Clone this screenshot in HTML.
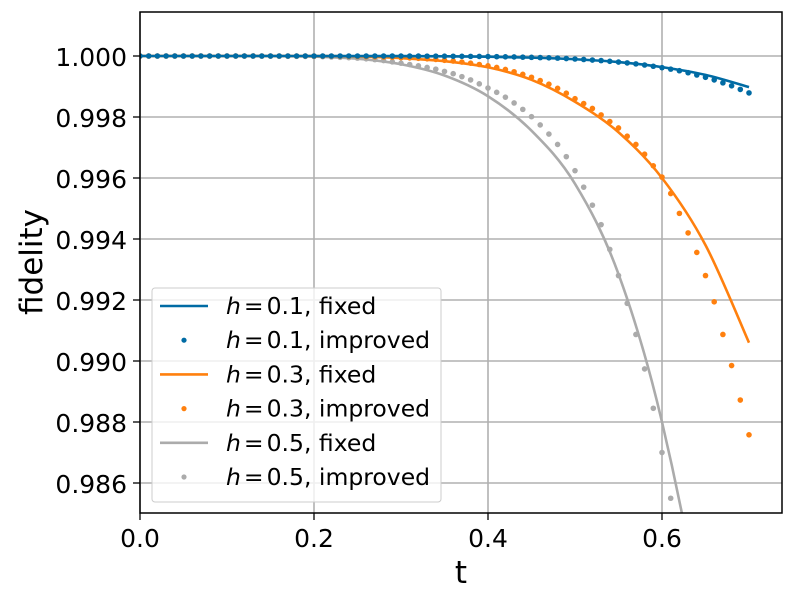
<!DOCTYPE html>
<html><head><meta charset="utf-8"><style>
html,body{margin:0;padding:0;background:#fff;overflow:hidden;width:792px;height:599px;}
svg{display:block;font-family:"DejaVu Sans","Liberation Sans",sans-serif;}
</style></head><body>
<svg id="chart" width="792" height="599" viewBox="0 0 792 599">
<defs><clipPath id="plotclip"><rect x="140" y="12" width="642" height="501"/></clipPath></defs>
<g id="grid"></g>
<g id="series" clip-path="url(#plotclip)"></g>
<rect x="140" y="12" width="642" height="501" fill="none" stroke="#000" stroke-width="1.5"/>
<g id="ticks"></g>
<text x="461" y="583" font-size="31" text-anchor="middle">t</text>
<text transform="translate(42,262) rotate(-90)" font-size="31" text-anchor="middle">fidelity</text>
<g id="legend"></g>
</svg>
<script>
// x grid of line samples (step 0.05) and dot samples (step 0.01)
const lineT = [0,0.05,0.1,0.15,0.2,0.25,0.3,0.35,0.4,0.45,0.5,0.55,0.6,0.65,0.7];
// fidelity loss in units of 1e-4 (fidelity = 1 - loss*1e-4)
const lossFixedH01 = [0,0,0,0,0,0.01,0.03,0.1,0.24,0.53,1.07,2.0,3.65,6.2,10.2];
const lossFixedH03 = [0,0,0,0,0.02,0.15,0.7,1.7,3.7,7.8,15,25,40,62,94];
const lossFixedH05 = [0,0,0,0,0.2,0.9,2.7,6.4,13.2,24.5,41.9,71.5,120,193,300];
const zeros20 = [0,0,0,0,0,0,0,0,0,0,0,0,0,0,0,0,0,0,0,0];
const lossImpH01 = zeros20.concat([0,0,0,0,0,0,0,0,0.01,0.01,
 .02,.03,.03,.04,.05,.06,.08,.1,.12,.15,
 .18,.21,.26,.31,.38,.44,.52,.6,.7,.83,
 .98,1.14,1.32,1.51,1.74,1.99,2.26,2.58,2.95,3.36,
 3.82,4.3,4.83,5.48,6.23,6.98,7.84,8.81,9.77,10.95,12.1]);
const lossImpH03 = zeros20.concat([.03,.04,.05,.08,.11,.16,.21,.27,.34,.43,
 .54,.64,.75,.91,1.13,1.4,1.66,1.99,2.36,2.79,
 3.22,3.76,4.4,5.16,6.01,6.98,8.06,9.24,10.6,12.2,
 14,15.6,17.2,19.3,21.5,23.6,26.3,29,32.2,36,
 39.7,45.1,51.6,58,64.4,72,80.6,91.3,101.5,112.8,124.2]);
const lossImpH05 = [0,0,0,0,0,0,0,0,0,0,0.01,0.01,0.02,0.03,0.04,0.05,0.07,0.09,0.11,0.13,
 .16,.21,.32,.43,.54,.7,.91,1.18,1.5,1.93,
 2.36,2.79,3.22,3.76,4.3,5.05,5.8,6.77,7.84,9.13,
 10.5,11.9,13.5,15.4,17.5,19.9,22.6,25.6,29,33,
 37.6,43,48.9,55.3,63.4,72,81.1,91.3,102.6,115.5,
 130,145,161,179,199,220,243,268,295,325,358];
const xTicks = [0.0,0.2,0.4,0.6];
const xTickLabels = ["0.0","0.2","0.4","0.6"];
const yTicks = [0.986,0.988,0.990,0.992,0.994,0.996,0.998,1.000];
const yTickLabels = ["0.986","0.988","0.990","0.992","0.994","0.996","0.998","1.000"];
const seriesNames = ["h01-fixed","h01-improved","h03-fixed","h03-improved","h05-fixed","h05-improved"];
const legendH = ["0.1","0.1","0.3","0.3","0.5","0.5"];
const legendKind = ["fixed","improved","fixed","improved","fixed","improved"];

const NS="http://www.w3.org/2000/svg";
const X0=140,X1=782,Y0=12,Y1=513;
const xMin=0,xMax=(X1-X0)/870;
const yMin=0.986-(Y1-483)/30500,yMax=1+(56-Y0)/30500;
function sx(v){return X0+(v-xMin)/(xMax-xMin)*(X1-X0);}
function sy(v){return Y1-(v-yMin)/(yMax-yMin)*(Y1-Y0);}
function mk(tag,attrs,parent){const e=document.createElementNS(NS,tag);for(const k in attrs)e.setAttribute(k,attrs[k]);parent.appendChild(e);return e;}
const grid=document.getElementById('grid'),ticks=document.getElementById('ticks'),ser=document.getElementById('series'),leg=document.getElementById('legend');
xTicks.forEach((v,i)=>{
 const g=mk('line',{x1:sx(v),x2:sx(v),y1:Y0,y2:Y1,stroke:'#b0b0b0','stroke-width':1.6},grid);
 
 
 const t=mk('line',{x1:sx(v),x2:sx(v),y1:Y1,y2:Y1+7,stroke:'#000','stroke-width':1.3},ticks);
 
 
 const l=mk('text',{x:sx(v),y:Y1+34,'font-size':25,'text-anchor':'middle'},ticks);
 l.textContent=xTickLabels[i];
 
 
});
yTicks.forEach((v,i)=>{
 const g=mk('line',{x1:X0,x2:X1,y1:sy(v),y2:sy(v),stroke:'#b0b0b0','stroke-width':1.6},grid);
 
 
 const t=mk('line',{x1:X0-7,x2:X0,y1:sy(v),y2:sy(v),stroke:'#000','stroke-width':1.3},ticks);
 
 
 const l=mk('text',{x:X0-13,y:sy(v)+10,'font-size':25,'text-anchor':'end'},ticks);
 l.textContent=yTickLabels[i];
 
 
});
function smoothPath(xs,ys){
 const n=xs.length;const px=xs.map(sx),py=ys.map(sy);
 let d='M'+px[0]+','+py[0];
 for(let i=0;i<n-1;i++){
  const p0=i>0?i-1:i,p3=i+2<n?i+2:i+1;
  const c1x=px[i]+(px[i+1]-px[p0])/6,c1y=py[i]+(py[i+1]-py[p0])/6;
  const c2x=px[i+1]-(px[p3]-px[i])/6,c2y=py[i+1]-(py[p3]-py[i])/6;
  d+=' C'+c1x+','+c1y+' '+c2x+','+c2y+' '+px[i+1]+','+py[i+1];
 }
 return d;
}
const colors=["#006BA4","#006BA4","#FF800E","#FF800E","#ABABAB","#ABABAB"];
const fixedSets=[lossFixedH01,lossFixedH03,lossFixedH05];
const impSets=[lossImpH01,lossImpH03,lossImpH05];
const order=[4,5,2,3,0,1];
order.forEach(k=>{
 const s=Math.floor(k/2);
 if(k%2===0){
  const ys=fixedSets[s].map(v=>1-v*1e-4);
  const p=mk('path',{d:smoothPath(lineT,ys),fill:'none',stroke:colors[k],'stroke-width':2.6},ser);
  
  
 } else {
  const g=mk('g',{},ser);
  
  
  impSets[s].forEach((v,i)=>{
   const t=i*0.01,f=1-v*1e-4;
   if(f<yMin-0.0002)return;
   const c=mk('circle',{cx:sx(t),cy:sy(f),r:2.8,fill:colors[k]},g);
   
   
  });
 }
});
// legend
const box=mk('rect',{x:152,y:288,width:289,height:214,rx:3,fill:'#fff','fill-opacity':0.8,stroke:'#cccccc','stroke-width':1},leg);


seriesNames.forEach((nm,i)=>{
 const y=306+i*34.2;
 const g=mk('g',{},leg);
 
 
 if(i%2===0){mk('line',{x1:160,x2:208,y1:y,y2:y,stroke:colors[i],'stroke-width':2.6},g);}
 else{mk('circle',{cx:184,cy:y,r:2.6,fill:colors[i]},g);}
 const tx=mk('text',{x:226,y:y+8,'font-size':23.5},g);
 tx.innerHTML='<tspan font-style="italic">h</tspan><tspan dx="3">=</tspan><tspan dx="3">'+legendH[i]+', '+legendKind[i]+'</tspan>';
});
</script>
</body></html>
